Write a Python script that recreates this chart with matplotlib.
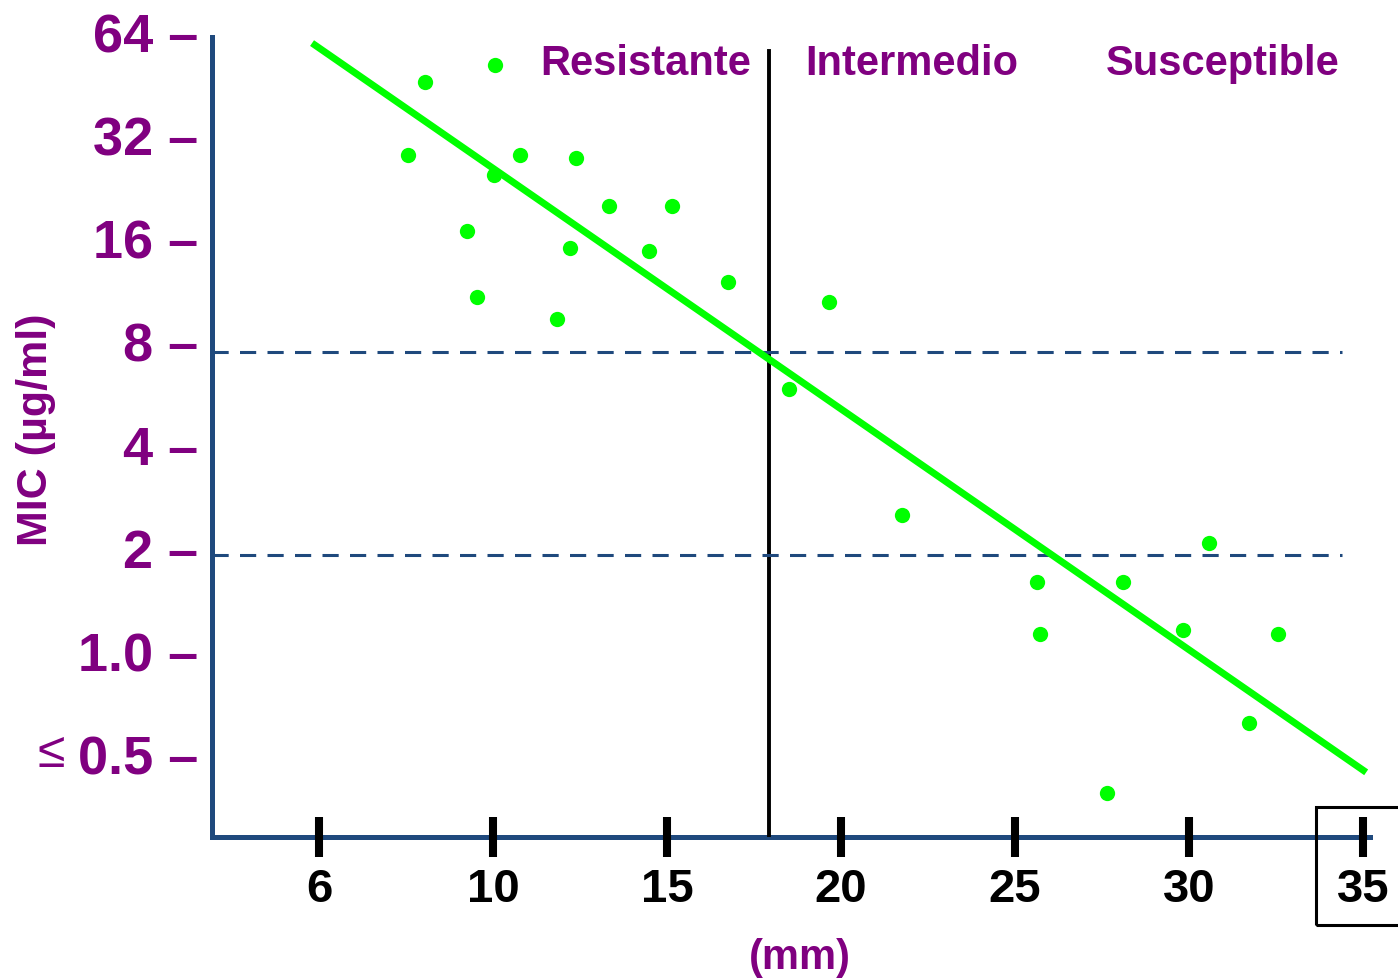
import numpy as np
import matplotlib
matplotlib.use("Agg")
import matplotlib.pyplot as plt
from matplotlib.patches import Rectangle

plt.rcParams['font.family'] = ['Liberation Sans', 'DejaVu Sans']

# zone diameter (mm) vs MIC (ug/ml)
zone_mm = [8.05, 10.06, 7.56, 10.78, 12.39, 10.03, 13.33, 15.14, 9.25, 12.21,
           14.48, 16.75, 9.54, 19.66, 11.84, 18.51, 21.75, 30.57, 25.63, 28.10,
           25.72, 29.83, 32.56, 31.72, 27.64]
mic = [45.7, 51.3, 28.0, 28.0, 27.4, 24.5, 19.9, 19.9, 16.8, 15.0,
       14.7, 11.9, 10.8, 10.4, 9.29, 5.80, 2.49, 2.07, 1.59, 1.59,
       1.12, 1.15, 1.12, 0.615, 0.384]

fit_x = [4.80, 35.09]
fit_y = [59.4, 0.442]

breakpoint_mm = 17.93
mic_breaks = [7.45, 1.90]

xtick_pos = [5, 10, 15, 20, 25, 30, 35]
xtick_labels = ['6', '10', '15', '20', '25', '30', '35']
ytick_pos = [64, 32, 16, 8, 4, 2, 1, 0.5]
ytick_labels = ['64 –', '32 –', '16 –', '8 –', '4 –', '2 –', '1.0 –', '0.5 –']
zones = ['Resistante', 'Intermedio', 'Susceptible']
zone_x = [646, 912, 1223]

purple = '#800080'
blue = '#1f497d'
green = '#00ff00'

W, H = 1398, 979
fig = plt.figure(figsize=(W / 100, H / 100), dpi=100)
ax = fig.add_axes([212 / W, 1 - 838 / H, (1370 - 212) / W, (838 - 30) / H])

ymin = 2 ** -1.805
ax.set_yscale('log', base=2)
ax.set_xlim(1.925, 35.2)
ax.set_ylim(ymin, 2 ** 6.029)

ax.plot(fit_x, fit_y, color=green, lw=5, solid_capstyle='butt', zorder=3)
ax.plot(zone_mm, mic, 'o', color=green, ms=11, mec='none', zorder=4)

ax.plot([breakpoint_mm, breakpoint_mm], [ymin, 56.3], color='black', lw=2.8, zorder=2)
for yb in mic_breaks:
    ax.plot([1.925, 34.4], [yb, yb], color=blue, lw=2.2, dashes=(5.3, 3.7), zorder=2)

for sp in ['top', 'right']:
    ax.spines[sp].set_visible(False)
for sp in ['left', 'bottom']:
    ax.spines[sp].set_color(blue)
    ax.spines[sp].set_linewidth(3.6)
    ax.spines[sp].set_zorder(1)
ax.spines['left'].set_bounds(ymin, 2 ** 5.951)

ax.set_xticks(xtick_pos)
ax.set_xticklabels(xtick_labels, fontsize=34, fontweight='bold', color='black')
ax.tick_params(axis='x', direction='inout', length=29, width=5.8, color='black', pad=7)

ax.set_yticks(ytick_pos)
ax.set_yticklabels(ytick_labels, fontsize=39, fontweight='bold', color=purple)
ax.yaxis.set_minor_locator(matplotlib.ticker.NullLocator())
ax.tick_params(axis='y', length=0, pad=10)

fig.text(36 / W, 1 - 430 / H, 'MIC (µg/ml)', fontsize=31, fontweight='bold', color=purple,
         rotation=90, ha='center', va='center')
fig.text(800 / W, 1 - 958 / H, '(mm)', fontsize=30, fontweight='bold', color=purple,
         ha='center', va='center')
fig.text(51 / W, 1 - 754 / H, '≤', fontsize=36, color=purple, ha='center', va='center')

for label, xc in zip(zones, zone_x):
    fig.text(xc / W, 1 - 64 / H, label, fontsize=30, fontweight='bold', color=purple,
             ha='center', va='center')

fig.patches.append(Rectangle((1316 / W, 1 - 926 / H), 90 / W, 118 / H, fill=False,
                             ec='black', lw=2.2, transform=fig.transFigure))

fig.savefig('out.png', dpi=100)
